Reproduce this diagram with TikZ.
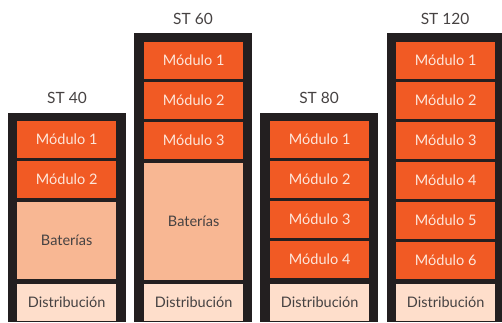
\documentclass[tikz,border=0pt]{standalone}
\usepackage{fontspec}
\setmainfont{Lato}
\usetikzlibrary{math}
\definecolor{mydark}{RGB}{35,31,32}
\definecolor{myorange}{RGB}{241,90,36}
\definecolor{mybatt}{RGB}{248,183,147}
\definecolor{mydist}{RGB}{254,222,203}
\definecolor{mytext}{RGB}{70,66,66}
\definecolor{mylight}{RGB}{253,230,218}

\begin{document}
\begin{tikzpicture}[x=1pt,y=-1pt,
  cab/.style={fill=mydark, anchor=north west, minimum width=118pt, inner sep=0pt},
  box/.style={anchor=north west, minimum width=99pt, inner sep=0pt, font=\fontsize{14.5}{16}\selectfont},
  modbox/.style={box, fill=myorange, text=mylight, minimum height=37pt},
  battbox/.style={box, fill=mybatt, text=mytext},
  distbox/.style={box, fill=mydist, text=mytext, minimum height=37pt},
  title/.style={text=mytext, font=\fontsize{15.5}{17}\selectfont}
]
\tikzmath{
\P=40;
}
\useasboundingbox (0,0) rectangle (502,322);

% ST 40
\node[cab, minimum height=209pt] (cab40) at (8,113) {};
\node[title] (t40) at (67,98) {ST 40};
\foreach \i in {1,2}{
\node[modbox] (m40-\i) at (17,{121+\P*(\i-1)}) {Módulo \i};
}
\node[battbox, minimum height=77pt] (b40) at (17,202) {Baterías};
\node[distbox] (d40) at (17,284) {Distribución};

% ST 60
\node[cab, minimum height=289pt] (cab60) at (134,33) {};
\node[title] (t60) at (193,19) {ST 60};
\foreach \i in {1,2,3}{
\node[modbox] (m60-\i) at (144,{42+\P*(\i-1)}) {Módulo \i};
}
\node[battbox, minimum height=117pt] (b60) at (144,163) {Baterías};
\node[distbox] (d60) at (144,284) {Distribución};

% ST 80
\node[cab, minimum height=209pt] (cab80) at (260,113) {};
\node[title] (t80) at (319,98) {ST 80};
\foreach \i in {1,...,4}{
\node[modbox] (m80-\i) at (270,{121+\P*(\i-1)}) {Módulo \i};
}
\node[distbox] (d80) at (270,284) {Distribución};

% ST 120
\node[cab, minimum height=289pt] (cab120) at (387,33) {};
\node[title] (t120) at (445,19) {ST 120};
\foreach \i in {1,...,6}{
\node[modbox] (m120-\i) at (396,{42+\P*(\i-1)}) {Módulo \i};
}
\node[distbox] (d120) at (396,284) {Distribución};
\end{tikzpicture}
\end{document}
